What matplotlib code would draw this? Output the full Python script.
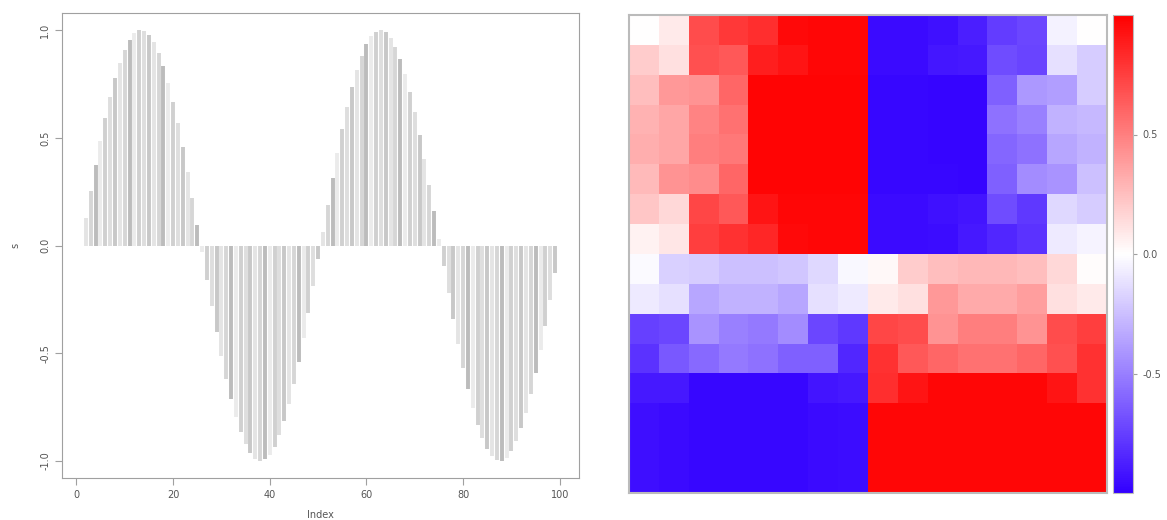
import numpy as np
import matplotlib
matplotlib.use("Agg")
import matplotlib.pyplot as plt
from matplotlib.colors import LinearSegmentedColormap

# left panel: s plotted against its index as vertical lines
index = list(range(1, 101))
s = [0.0, 0.1266, 0.2511, 0.3717, 0.4862, 0.5929, 0.6901, 0.7761, 0.8497, 0.9096,
     0.9549, 0.9848, 0.9989, 0.9969, 0.9788, 0.9450, 0.8960, 0.8326, 0.7557, 0.6668,
     0.5670, 0.4582, 0.3420, 0.2203, 0.0951, -0.0317, -0.1580, -0.2817, -0.4009, -0.5137,
     -0.6182, -0.7127, -0.7958, -0.8660, -0.9224, -0.9639, -0.9898, -0.9999, -0.9938, -0.9718,
     -0.9342, -0.8815, -0.8146, -0.7346, -0.6428, -0.5406, -0.4298, -0.3120, -0.1893, -0.0634,
     0.0634, 0.1893, 0.3120, 0.4298, 0.5406, 0.6428, 0.7346, 0.8146, 0.8815, 0.9342,
     0.9718, 0.9938, 0.9999, 0.9898, 0.9639, 0.9224, 0.8660, 0.7958, 0.7127, 0.6182,
     0.5137, 0.4009, 0.2817, 0.1580, 0.0317, -0.0951, -0.2203, -0.3420, -0.4582, -0.5670,
     -0.6668, -0.7557, -0.8326, -0.8960, -0.9450, -0.9788, -0.9969, -0.9989, -0.9848, -0.9549,
     -0.9096, -0.8497, -0.7761, -0.6901, -0.5929, -0.4862, -0.3717, -0.2511, -0.1266, 0.0]

# right panel: 16 x 16 matrix, rows top to bottom
M = [
    [0.00, 0.08, 0.70, 0.78, 0.82, 0.96, 0.97, 0.97, -0.96, -0.96, -0.93, -0.88, -0.76, -0.72, -0.05, 0.00],
    [0.20, 0.12, 0.68, 0.65, 0.88, 0.92, 0.97, 0.97, -0.96, -0.96, -0.91, -0.90, -0.70, -0.73, -0.12, -0.20],
    [0.25, 0.40, 0.42, 0.60, 0.98, 0.98, 0.98, 0.98, -0.97, -0.97, -0.98, -0.98, -0.62, -0.40, -0.38, -0.20],
    [0.30, 0.35, 0.48, 0.55, 0.98, 0.98, 0.98, 0.98, -0.97, -0.97, -0.98, -0.98, -0.55, -0.50, -0.30, -0.28],
    [0.32, 0.35, 0.50, 0.53, 0.98, 0.98, 0.98, 0.98, -0.97, -0.97, -0.98, -0.98, -0.60, -0.55, -0.35, -0.30],
    [0.27, 0.42, 0.45, 0.60, 0.98, 0.98, 0.98, 0.98, -0.97, -0.97, -0.97, -0.98, -0.62, -0.45, -0.42, -0.25],
    [0.22, 0.15, 0.72, 0.65, 0.92, 0.97, 0.97, 0.97, -0.96, -0.96, -0.93, -0.92, -0.70, -0.78, -0.15, -0.20],
    [0.05, 0.10, 0.75, 0.80, 0.85, 0.96, 0.97, 0.97, -0.96, -0.96, -0.95, -0.90, -0.85, -0.80, -0.08, -0.04],
    [-0.02, -0.18, -0.20, -0.25, -0.25, -0.22, -0.15, -0.03, 0.03, 0.20, 0.25, 0.28, 0.28, 0.25, 0.15, 0.01],
    [-0.08, -0.12, -0.35, -0.30, -0.30, -0.35, -0.12, -0.08, 0.08, 0.12, 0.40, 0.33, 0.33, 0.38, 0.12, 0.08],
    [-0.75, -0.72, -0.42, -0.50, -0.52, -0.45, -0.72, -0.78, 0.72, 0.70, 0.42, 0.50, 0.50, 0.42, 0.70, 0.75],
    [-0.80, -0.65, -0.58, -0.52, -0.55, -0.62, -0.62, -0.85, 0.80, 0.65, 0.60, 0.55, 0.55, 0.60, 0.68, 0.80],
    [-0.90, -0.90, -0.97, -0.97, -0.97, -0.97, -0.92, -0.90, 0.82, 0.92, 0.97, 0.97, 0.97, 0.97, 0.92, 0.80],
    [-0.94, -0.96, -0.97, -0.97, -0.97, -0.97, -0.96, -0.95, 0.97, 0.97, 0.97, 0.97, 0.97, 0.97, 0.97, 0.97],
    [-0.94, -0.96, -0.97, -0.97, -0.97, -0.97, -0.96, -0.95, 0.97, 0.97, 0.97, 0.97, 0.97, 0.97, 0.97, 0.97],
    [-0.94, -0.96, -0.97, -0.97, -0.97, -0.97, -0.96, -0.95, 0.97, 0.97, 0.97, 0.97, 0.97, 0.97, 0.97, 0.97],
]
cbar_ticks = [-0.5, 0.0, 0.5]

greys = ['#c8c8c8', '#e4e4e4', '#d6d6d6', '#bcbcbc', '#ebebeb', '#d0d0d0', '#dedede']
txt = '#555555'
edge = '#a0a0a0'

plt.rcParams['axes.unicode_minus'] = False
fig = plt.figure(figsize=(11.67, 5.2), dpi=100)

ax = fig.add_axes([62 / 1167, 42 / 520, 517 / 1167, 465 / 520])
cols = [greys[i % len(greys)] for i in range(len(s))]
ax.vlines(index, 0, s, colors=cols, lw=2.8)
ax.set_xlim(1 - 3.96, 100 + 3.96)
ax.set_ylim(-1.08, 1.08)
ax.set_xticks([0, 20, 40, 60, 80, 100])
ax.set_yticks([-1.0, -0.5, 0.0, 0.5, 1.0])
ax.set_yticklabels(['-1.0', '-0.5', '0.0', '0.5', '1.0'], rotation=90, va='center')
ax.tick_params(colors=edge, labelcolor=txt, labelsize=7, length=5)
ax.set_xlabel('Index', fontsize=7, color=txt, labelpad=7)
ax.set_ylabel('s', fontsize=7, color=txt, labelpad=14)
for sp in ax.spines.values():
    sp.set_color(edge)

cmap = LinearSegmentedColormap.from_list('bwr2', ['#3300ff', '#ffffff', '#ff0000'])
hx = fig.add_axes([629 / 1167, 27 / 520, 478 / 1167, 478 / 520])
im = hx.imshow(np.array(M), cmap=cmap, vmin=-1, vmax=1, aspect='auto', interpolation='nearest')
hx.set_xticks([])
hx.set_yticks([])
for sp in hx.spines.values():
    sp.set_color('#bbbbbb')
    sp.set_linewidth(1.5)

cax = fig.add_axes([1113 / 1167, 27 / 520, 20 / 1167, 478 / 520])
cb = fig.colorbar(im, cax=cax, ticks=cbar_ticks, format='%.1f')
cb.outline.set_edgecolor('#bbbbbb')
cax.tick_params(colors=edge, labelcolor=txt, labelsize=7, length=3)

fig.savefig('out.png', dpi=100)
